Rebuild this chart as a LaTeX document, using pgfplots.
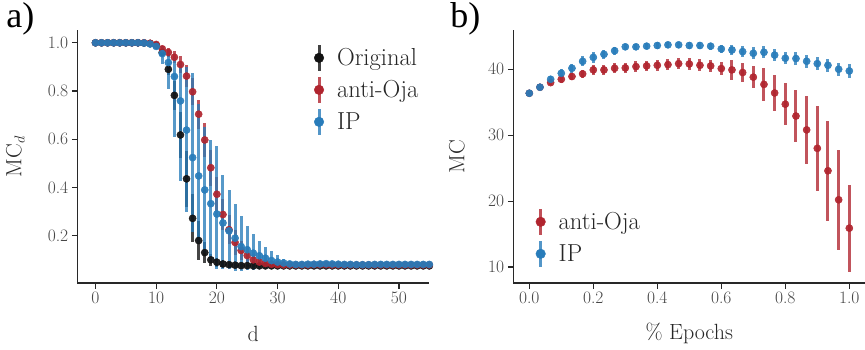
\documentclass[border=0pt]{standalone}
\usepackage{fontspec}
\usepackage{pgfplots}
\usepackage{pgfplotstable}
\pgfplotsset{compat=1.18}
\newfontfamily\panelfont{Liberation Serif}

\definecolor{origblack}{RGB}{17,17,17}
\definecolor{ojared}{RGB}{176,36,46}
\definecolor{ipblue}{RGB}{40,124,186}
\definecolor{spine}{RGB}{40,40,40}

% memory capacity per delay d
\pgfplotstableread{
d y ep em
0 1.000 0.002 0.002
1 1.000 0.002 0.002
2 1.000 0.002 0.002
3 1.000 0.002 0.002
4 1.000 0.002 0.002
5 1.000 0.002 0.002
6 1.000 0.002 0.002
7 1.000 0.002 0.002
8 0.999 0.002 0.002
9 0.997 0.003 0.003
10 0.990 0.006 0.006
11 0.960 0.015 0.015
12 0.890 0.025 0.025
13 0.782 0.060 0.060
14 0.618 0.095 0.095
15 0.436 0.115 0.115
16 0.272 0.100 0.100
17 0.180 0.080 0.080
18 0.130 0.045 0.045
19 0.100 0.025 0.025
20 0.090 0.018 0.018
21 0.083 0.012 0.012
22 0.080 0.010 0.010
23 0.078 0.008 0.008
24 0.076 0.006 0.006
25 0.076 0.006 0.006
26 0.075 0.006 0.006
27 0.075 0.006 0.006
28 0.075 0.006 0.006
29 0.075 0.006 0.006
30 0.075 0.006 0.006
31 0.075 0.006 0.006
32 0.075 0.006 0.006
33 0.075 0.006 0.006
34 0.075 0.006 0.006
35 0.075 0.006 0.006
36 0.075 0.006 0.006
37 0.075 0.006 0.006
38 0.075 0.006 0.006
39 0.075 0.006 0.006
40 0.075 0.006 0.006
41 0.075 0.006 0.006
42 0.075 0.006 0.006
43 0.075 0.006 0.006
44 0.075 0.006 0.006
45 0.075 0.006 0.006
46 0.075 0.006 0.006
47 0.075 0.006 0.006
48 0.075 0.006 0.006
49 0.075 0.006 0.006
50 0.075 0.006 0.006
51 0.075 0.006 0.006
52 0.075 0.006 0.006
53 0.075 0.006 0.006
54 0.075 0.006 0.006
55 0.075 0.006 0.006
}\origtab

\pgfplotstableread{
d y ep em
0 1.000 0.002 0.002
1 1.000 0.002 0.002
2 1.000 0.002 0.002
3 1.000 0.002 0.002
4 1.000 0.002 0.002
5 1.000 0.002 0.002
6 1.000 0.002 0.002
7 1.000 0.002 0.002
8 1.000 0.002 0.002
9 0.998 0.003 0.003
10 0.993 0.005 0.005
11 0.975 0.012 0.012
12 0.960 0.018 0.018
13 0.940 0.025 0.025
14 0.910 0.035 0.035
15 0.862 0.045 0.045
16 0.797 0.055 0.055
17 0.704 0.060 0.060
18 0.597 0.070 0.070
19 0.482 0.075 0.075
20 0.372 0.070 0.070
21 0.288 0.065 0.065
22 0.225 0.060 0.060
23 0.172 0.050 0.050
24 0.139 0.040 0.040
25 0.118 0.030 0.030
26 0.100 0.025 0.025
27 0.091 0.018 0.018
28 0.085 0.013 0.013
29 0.082 0.010 0.010
30 0.080 0.008 0.008
31 0.079 0.007 0.007
32 0.079 0.007 0.007
33 0.079 0.007 0.007
34 0.079 0.007 0.007
35 0.079 0.007 0.007
36 0.080 0.007 0.007
37 0.080 0.007 0.007
38 0.080 0.007 0.007
39 0.079 0.007 0.007
40 0.079 0.007 0.007
41 0.079 0.007 0.007
42 0.079 0.007 0.007
43 0.079 0.007 0.007
44 0.079 0.007 0.007
45 0.079 0.007 0.007
46 0.079 0.007 0.007
47 0.079 0.007 0.007
48 0.079 0.007 0.007
49 0.079 0.007 0.007
50 0.079 0.007 0.007
51 0.079 0.007 0.007
52 0.079 0.007 0.007
53 0.079 0.007 0.007
54 0.079 0.007 0.007
55 0.079 0.007 0.007
}\ojatab

\pgfplotstableread{
d y ep em
0 1.000 0.003 0.003
1 1.000 0.003 0.003
2 1.000 0.003 0.003
3 1.000 0.003 0.003
4 1.000 0.003 0.003
5 1.000 0.003 0.003
6 1.000 0.003 0.003
7 1.000 0.003 0.003
8 0.999 0.003 0.003
9 0.995 0.004 0.004
10 0.985 0.010 0.012
11 0.955 0.030 0.045
12 0.918 0.045 0.110
13 0.860 0.075 0.250
14 0.759 0.160 0.330
15 0.638 0.260 0.340
16 0.524 0.350 0.310
17 0.448 0.300 0.280
18 0.390 0.260 0.260
19 0.333 0.265 0.240
20 0.290 0.280 0.230
21 0.253 0.200 0.190
22 0.220 0.170 0.160
23 0.190 0.140 0.135
24 0.155 0.125 0.100
25 0.142 0.100 0.085
26 0.128 0.080 0.070
27 0.117 0.060 0.055
28 0.107 0.048 0.045
29 0.097 0.040 0.035
30 0.091 0.030 0.028
31 0.087 0.016 0.016
32 0.083 0.012 0.012
33 0.081 0.008 0.008
34 0.081 0.008 0.008
35 0.082 0.008 0.008
36 0.082 0.008 0.008
37 0.083 0.008 0.008
38 0.084 0.008 0.008
39 0.083 0.008 0.008
40 0.082 0.008 0.008
41 0.081 0.008 0.008
42 0.081 0.008 0.008
43 0.080 0.008 0.008
44 0.080 0.008 0.008
45 0.080 0.008 0.008
46 0.081 0.008 0.008
47 0.081 0.008 0.008
48 0.081 0.008 0.008
49 0.081 0.008 0.008
50 0.081 0.008 0.008
51 0.081 0.008 0.008
52 0.081 0.008 0.008
53 0.081 0.008 0.008
54 0.081 0.008 0.008
55 0.081 0.008 0.008
}\iptab

% total memory capacity over training
\pgfplotstableread{
x y e
0.0000 36.36 0.30
0.0333 37.27 0.35
0.0667 37.97 0.40
0.1000 38.48 0.50
0.1333 38.90 0.55
0.1667 39.30 0.65
0.2000 39.90 0.70
0.2333 39.90 0.70
0.2667 40.15 0.75
0.3000 40.20 0.75
0.3333 40.40 0.80
0.3667 40.50 0.80
0.4000 40.60 0.80
0.4333 40.70 0.85
0.4667 40.85 0.85
0.5000 40.80 0.85
0.5333 40.60 0.90
0.5667 40.50 0.90
0.6000 40.10 1.00
0.6333 39.90 1.50
0.6667 39.50 1.50
0.7000 38.80 1.70
0.7333 37.70 2.50
0.7667 36.40 2.80
0.8000 34.70 3.20
0.8333 32.90 3.95
0.8667 30.80 5.20
0.9000 28.00 6.50
0.9333 24.60 7.60
0.9667 20.20 7.60
1.0000 15.90 6.60
}\ojaep

\pgfplotstableread{
x y e
0.0000 36.36 0.30
0.0333 37.27 0.35
0.0667 38.48 0.50
0.1000 39.39 0.60
0.1333 40.15 0.65
0.1667 41.20 0.75
0.2000 41.80 0.80
0.2333 42.27 0.70
0.2667 42.80 0.60
0.3000 43.40 0.50
0.3333 43.40 0.50
0.3667 43.50 0.50
0.4000 43.60 0.50
0.4333 43.70 0.45
0.4667 43.70 0.45
0.5000 43.60 0.50
0.5333 43.60 0.50
0.5667 43.50 0.55
0.6000 43.08 0.60
0.6333 42.92 0.80
0.6667 42.67 0.80
0.7000 42.42 0.90
0.7333 42.57 0.90
0.7667 42.15 0.90
0.8000 41.67 0.90
0.8333 41.62 0.95
0.8667 41.21 0.95
0.9000 40.85 0.95
0.9333 40.60 1.00
0.9667 40.00 1.00
1.0000 39.74 1.00
}\ipep

\tikzset{
  xlab/.style={at={(axis description cs:0.5,-0.2)}, anchor=center,
    font=\fontsize{22}{26}\selectfont, text=black!85},
  ylab/.style={at={(axis description cs:#1,0.5)}, rotate=90, anchor=center,
    font=\fontsize{22}{26}\selectfont, text=black!85},
}

\pgfplotsset{
  panel/.style={
    scale only axis, width=352pt, height=253pt, anchor=south west,
    clip=false,
    axis lines=left,
    axis line style={-, draw=spine, line width=1.3pt},
    tick align=outside, major tick length=5.5pt,
    tick style={draw=spine, line width=1.2pt},
    /pgf/number format/assume math mode=true,
    tick label style={font=\fontsize{17.5}{20}\selectfont, text=black!72},
    legend cell align=left,
    legend style={draw=none, fill=none, font=\fontsize{24.6}{28}\selectfont,
      text=black!85, inner sep=0pt, row sep=3pt,
      /tikz/every odd column/.append style={column sep=11pt}},
  },
  ebplot/.style={forget plot, only marks, mark=*, mark size=3.6pt, color=#1,
    mark options={draw=none, fill=#1, fill opacity=0.92},
    error bars/y dir=both, error bars/y explicit, error bars/error mark=none,
    error bars/error bar style={line width=3pt, draw=#1, draw opacity=0.78}},
  ebleg/.style={color=#1, legend image code/.code={
      \draw[line width=3pt, draw opacity=0.8] (0pt,-13pt) -- (0pt,13pt);
      \fill (0pt,0pt) circle (4.8pt);}},
}

\begin{document}
\begin{tikzpicture}
\useasboundingbox (0pt,0pt) rectangle (865pt,349pt);

\begin{axis}[panel, at={(77.3pt,66pt)},
  xmin=-3, xmax=55, ymin=0.004, ymax=1.053,
  xtick={0,10,20,30,40,50}, ytick={0.2,0.4,0.6,0.8,1.0},
  yticklabel style={/pgf/number format/.cd, fixed, fixed zerofill, precision=1},
  xlabel={d}, ylabel={MC$_d$},
  every axis x label/.style={xlab},
  every axis y label/.style={ylab=-0.176},
  legend style={at={(axis description cs:0.672,0.948)}, anchor=north west},
]
\addplot[ebplot=origblack] table[x=d, y=y, y error plus=ep, y error minus=em] {\origtab};
\addplot[ebplot=ojared] table[x=d, y=y, y error plus=ep, y error minus=em] {\ojatab};
\addplot[ebplot=ipblue] table[x=d, y=y, y error plus=ep, y error minus=em] {\iptab};
\addlegendimage{ebleg=origblack}\addlegendentry{Original}
\addlegendimage{ebleg=ojared}\addlegendentry{anti-Oja}
\addlegendimage{ebleg=ipblue}\addlegendentry{IP}
\node[font=\panelfont\fontsize{36}{36}\selectfont, text=black] at (axis description cs:-0.162,1.045) {a)};
\end{axis}

\begin{axis}[panel, at={(513.3pt,66pt)},
  xmin=-0.05, xmax=1.05, ymin=7.58, ymax=45.95,
  xtick={0,0.2,0.4,0.6,0.8,1.0}, ytick={10,20,30,40},
  xticklabel style={/pgf/number format/.cd, fixed, fixed zerofill, precision=1},
  xlabel={\% Epochs}, ylabel={MC},
  every axis x label/.style={xlab},
  every axis y label/.style={ylab=-0.16},
  legend style={at={(axis description cs:0.063,0.3)}, anchor=north west},
]
\addplot[ebplot=ojared] table[x=x, y=y, y error=e] {\ojaep};
\addplot[ebplot=ipblue] table[x=x, y=y, y error=e] {\ipep};
\addlegendimage{ebleg=ojared}\addlegendentry{anti-Oja}
\addlegendimage{ebleg=ipblue}\addlegendentry{IP}
\node[font=\panelfont\fontsize{36}{36}\selectfont, text=black] at (axis description cs:-0.136,1.045) {b)};
\end{axis}
\end{tikzpicture}
\end{document}
